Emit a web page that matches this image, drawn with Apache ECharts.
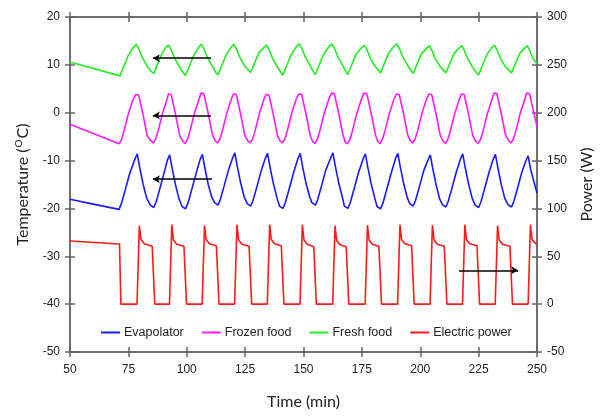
<!DOCTYPE html>
<html>
<head>
<meta charset="utf-8">
<script src="https://cdn.jsdelivr.net/npm/echarts@6/dist/echarts.min.js"></script>
<style>
  html, body { margin: 0; padding: 0; background: #fff; }
  #container { width: 603px; height: 419px; }
</style>
</head>
<body>
<div id="container"></div>
<script>
// x ticks and y ranges
var timeTicks = [50, 250, 25];
var tempRange = [-50, 20, 10];
var powerRange = [-50, 300, 50];

var legendNames = ['Evapolator', 'Frozen food', 'Fresh food', 'Electric power'];

// [time (min), temperature (C)]
var evapolator = [
  [50,-18.1],[60,-19.1],[71.0,-20.2],
  [72.0,-19.0],[73.5,-16.4],[75.5,-12.8],[77.8,-9.7],[78.8,-8.6],
  [79.8,-11.3],[81.3,-14.9],[82.8,-17.8],[84.4,-19.3],[85.9,-19.8],
  [86.9,-18.6],[88.4,-16.0],[90.4,-12.4],[91.7,-9.9],[92.7,-8.8],
  [93.7,-11.5],[95.2,-15.1],[96.7,-18.0],[98.0,-19.6],[99.5,-20.1],
  [100.5,-18.9],[102.0,-16.3],[104.0,-12.7],[105.7,-9.8],[106.7,-8.7],
  [107.7,-11.4],[109.2,-15.0],[110.7,-17.6],[111.9,-18.8],[113.4,-19.3],
  [114.4,-18.1],[115.9,-15.5],[117.9,-11.9],[119.6,-9.5],[120.6,-8.4],
  [121.6,-11.1],[123.1,-14.7],[124.6,-17.6],[125.9,-19.0],[127.4,-19.5],
  [128.4,-18.3],[129.9,-15.7],[131.9,-12.1],[133.6,-9.6],[134.6,-8.5],
  [135.6,-11.2],[137.1,-14.8],[138.6,-17.7],[139.7,-19.5],[141.2,-20.0],
  [142.2,-18.8],[143.7,-16.2],[145.7,-12.6],[147.6,-9.6],[148.6,-8.5],
  [149.6,-11.2],[151.1,-14.8],[152.6,-17.5],[153.6,-18.8],[155.1,-19.3],
  [156.1,-18.1],[157.6,-15.5],[159.6,-11.9],[161.6,-9.5],[162.6,-8.4],
  [163.6,-11.1],[165.1,-14.7],[166.6,-17.6],[167.5,-19.5],[169.0,-20.0],
  [170.0,-18.8],[171.5,-16.2],[173.5,-12.6],[175.5,-9.7],[176.5,-8.6],
  [177.5,-11.3],[179.0,-14.9],[180.5,-17.8],[181.5,-19.6],[183.0,-20.1],
  [184.0,-18.9],[185.5,-16.3],[187.5,-12.7],[189.4,-9.6],[190.4,-8.5],
  [191.4,-11.2],[192.9,-14.8],[194.4,-17.7],[195.5,-19.0],[197.0,-19.5],
  [198.0,-18.3],[199.5,-15.7],[201.5,-12.1],[203.3,-9.9],[204.3,-8.8],
  [205.3,-11.5],[206.8,-15.1],[208.3,-18.0],[209.5,-19.2],[211.0,-19.7],
  [212.0,-18.5],[213.5,-15.9],[215.5,-12.3],[217.2,-9.7],[218.2,-8.6],
  [219.2,-11.3],[220.7,-14.9],[222.2,-17.8],[223.5,-19.3],[225.0,-19.8],
  [226.0,-18.6],[227.5,-16.0],[229.5,-12.4],[231.2,-9.8],[232.2,-8.7],
  [233.2,-11.4],[234.7,-15.0],[236.2,-17.9],[237.6,-19.2],[239.1,-19.7],
  [240.1,-18.5],[241.6,-15.9],[243.6,-12.3],[245.2,-10.1],[246.2,-9.0],
  [247.2,-11.7],[250,-16.8]
];

var frozenFood = [
  [50,-2.4],[71.0,-6.5],
  [72.0,-5.7],[73.0,-4.1],[75.0,-0.2],[77.0,2.8],[78.2,3.8],[78.8,4.1],
  [79.4,3.7],[81.1,0.0],[83.1,-4.9],[84.7,-5.9],[85.7,-6.3],
  [86.7,-5.5],[87.7,-3.9],[89.7,0.0],[91.7,3.0],[92.1,3.9],[92.7,4.2],
  [93.3,3.8],[95.0,0.1],[97.0,-4.8],[98.3,-6.0],[99.3,-6.4],
  [100.3,-5.6],[101.3,-4.0],[103.3,-0.1],[105.3,2.9],[106.1,4.1],[106.7,4.4],
  [107.3,4.0],[109.0,0.3],[111.0,-4.6],[112.2,-5.9],[113.2,-6.3],
  [114.2,-5.5],[115.2,-3.9],[117.2,0.0],[119.2,3.0],[120.0,3.9],[120.6,4.2],
  [121.2,3.8],[122.9,0.1],[124.9,-4.8],[126.2,-5.9],[127.2,-6.3],
  [128.2,-5.5],[129.2,-3.9],[131.2,0.0],[133.2,3.0],[134.0,3.8],[134.6,4.1],
  [135.2,3.7],[136.9,0.0],[138.9,-4.9],[140.0,-5.9],[141.0,-6.3],
  [142.0,-5.5],[143.0,-3.9],[145.0,0.0],[147.0,3.0],[148.0,3.9],[148.6,4.2],
  [149.2,3.8],[150.9,0.1],[152.9,-4.8],[153.9,-6.0],[154.9,-6.4],
  [155.9,-5.6],[156.9,-4.0],[158.9,-0.1],[160.9,2.9],[162.0,4.1],[162.6,4.4],
  [163.2,4.0],[164.9,0.3],[166.9,-4.6],[167.8,-6.1],[168.8,-6.5],
  [169.8,-5.7],[170.8,-4.1],[172.8,-0.2],[174.8,2.8],[175.9,4.1],[176.5,4.4],
  [177.1,4.0],[178.8,0.3],[180.8,-4.6],[181.8,-6.0],[182.8,-6.4],
  [183.8,-5.6],[184.8,-4.0],[186.8,-0.1],[188.8,2.9],[189.8,3.9],[190.4,4.2],
  [191.0,3.8],[192.7,0.1],[194.7,-4.8],[195.8,-5.9],[196.8,-6.3],
  [197.8,-5.5],[198.8,-3.9],[200.8,0.0],[202.8,3.0],[203.7,3.9],[204.3,4.2],
  [204.9,3.8],[206.6,0.1],[208.6,-4.8],[209.8,-6.0],[210.8,-6.4],
  [211.8,-5.6],[212.8,-4.0],[214.8,-0.1],[216.8,2.9],[217.6,3.9],[218.2,4.2],
  [218.8,3.8],[220.5,0.1],[222.5,-4.8],[223.8,-6.0],[224.8,-6.4],
  [225.8,-5.6],[226.8,-4.0],[228.8,-0.1],[230.8,2.9],[231.6,4.1],[232.2,4.4],
  [232.8,4.0],[234.5,0.3],[236.5,-4.6],[237.9,-5.9],[238.9,-6.3],
  [239.9,-5.5],[240.9,-3.9],[242.9,0.0],[244.9,3.0],[245.6,4.1],[246.2,4.4],
  [246.8,4.0],[248.5,0.3],[250,-2.9]
];

var freshFood = [
  [50,10.6],[71.4,7.7],
  [72.8,9.4],[74.9,11.9],[77.0,13.6],[78.4,14.3],
  [79.5,13.3],[81.0,11.5],[83.1,9.7],[84.6,8.7],[85.9,8.2],
  [87.3,9.9],[89.4,12.4],[91.1,13.7],[92.3,14.1],
  [93.4,13.1],[94.9,11.3],[97.0,9.5],[98.5,8.3],[99.5,7.8],
  [100.9,9.5],[103.0,12.0],[105.1,13.7],[106.3,14.3],
  [107.4,13.3],[108.9,11.5],[111.0,9.7],[112.5,8.4],[113.4,7.9],
  [114.8,9.6],[116.9,12.1],[119.0,13.7],[120.2,14.3],
  [121.3,13.3],[122.8,11.5],[124.9,9.7],[126.4,8.9],[127.4,8.4],
  [128.8,10.1],[130.9,12.6],[133.0,13.6],[134.2,14.1],
  [135.3,13.1],[136.8,11.3],[138.9,9.5],[140.4,8.4],[141.2,7.9],
  [142.6,9.6],[144.7,12.1],[147.0,13.8],[148.2,14.4],
  [149.3,13.4],[150.8,11.6],[152.9,9.8],[154.3,8.5],[155.1,8.0],
  [156.5,9.7],[158.6,12.2],[161.0,13.9],[162.2,14.4],
  [163.3,13.4],[164.8,11.6],[166.9,9.8],[168.2,8.5],[169.0,8.0],
  [170.4,9.7],[172.5,12.2],[174.9,13.6],[176.1,14.1],
  [177.2,13.1],[178.7,11.3],[180.8,9.6],[182.2,8.8],[183.0,8.3],
  [184.4,10.0],[186.5,12.5],[188.8,13.9],[190.0,14.4],
  [191.1,13.4],[192.6,11.6],[194.7,9.8],[196.2,8.7],[197.0,8.2],
  [198.4,9.9],[200.5,12.3],[202.7,13.5],[203.9,14.0],
  [205.0,13.0],[206.5,11.2],[208.6,9.6],[210.1,8.8],[211.0,8.3],
  [212.4,10.0],[214.5,12.4],[216.6,13.5],[217.8,14.0],
  [218.9,13.0],[220.4,11.2],[222.5,9.4],[224.0,8.4],[225.0,7.9],
  [226.4,9.6],[228.5,12.1],[230.6,13.6],[231.8,14.1],
  [232.9,13.1],[234.4,11.3],[236.5,9.6],[238.1,8.8],[239.1,8.3],
  [240.5,10.0],[242.6,12.4],[244.6,13.5],[245.8,14.0],
  [246.9,13.0],[248.4,11.2],[250,10.3]
];

// [time (min), power (W)]
var electricPower = [
  [50,66],[71.2,62.8],[71.8,0],
  [78.7,0],[79.7,82.0],[80.4,67.5],[81.8,63.0],[85.2,60.5],[86.3,0],
  [92.6,0],[93.6,83.2],[94.3,67.0],[95.7,62.5],[98.8,60.5],[99.9,0],
  [106.6,0],[107.6,82.2],[108.3,67.5],[109.7,63.0],[112.7,61.0],[113.8,0],
  [120.5,0],[121.5,83.0],[122.2,67.0],[123.6,62.5],[126.7,60.5],[127.8,0],
  [134.5,0],[135.5,83.0],[136.2,67.5],[137.6,63.0],[140.5,61.0],[141.6,0],
  [148.5,0],[149.5,83.0],[150.2,67.0],[151.6,62.5],[154.4,60.0],[155.5,0],
  [162.5,0],[163.5,82.0],[164.2,66.5],[165.6,62.0],[168.3,60.0],[169.4,0],
  [176.4,0],[177.4,82.5],[178.1,67.0],[179.5,62.5],[182.3,60.5],[183.4,0],
  [190.3,0],[191.3,83.0],[192.0,67.5],[193.4,63.0],[196.3,61.0],[197.4,0],
  [204.2,0],[205.2,82.5],[205.9,67.0],[207.3,62.5],[210.3,60.5],[211.4,0],
  [218.1,0],[219.1,83.0],[219.8,67.5],[221.2,63.0],[224.3,61.0],[225.4,0],
  [232.1,0],[233.1,82.0],[233.8,67.0],[235.2,62.5],[238.4,60.5],[239.5,0],
  [246.2,0],[247.2,83.0],[247.9,67.5],[249.3,63.5],[250,63.5]
];

// arrow annotations [from, to]
var arrowFresh = [[110.4, 11.4], [85.5, 11.4]];
var arrowFrozen = [[110.4, -0.6], [85.5, -0.6]];
var arrowEvap = [[110.8, -13.9], [85.5, -13.9]];
var arrowPower = [[216.6, 35.3], [241.9, 35.3]];

var dom = document.getElementById('container');
var myChart = echarts.init(dom);

var axisColor = '#666';
var labelFont = { color: '#222', fontSize: 12, fontFamily: 'Liberation Sans, Arial' };

function xAx(pos, inside, extra) {
    var a = {
        type: 'value', min: timeTicks[0], max: timeTicks[1], interval: timeTicks[2],
        position: pos,
        axisLine: { show: true, onZero: false, lineStyle: { color: axisColor, width: 1.5 } },
        axisTick: { show: true, inside: inside, length: 5, lineStyle: { color: axisColor, width: 1.5 } },
        axisLabel: { show: false },
        splitLine: { show: false }
    };
    return Object.assign(a, extra || {});
}
function yAx(pos, range, inside, extra) {
    var a = {
        type: 'value', min: range[0], max: range[1], interval: range[2],
        position: pos,
        axisLine: { show: true, onZero: false, lineStyle: { color: axisColor, width: 1.5 } },
        axisTick: { show: true, inside: inside, length: 5, lineStyle: { color: axisColor, width: 1.5 } },
        axisLabel: { show: false },
        splitLine: { show: false }
    };
    return Object.assign(a, extra || {});
}

function arrow(coords) {
    return {
        silent: true,
        symbol: ['none', 'arrow'],
        symbolSize: [6, 7],
        label: { show: false },
        lineStyle: { color: '#000', width: 1.5, type: 'solid' },
        data: [[{ coord: coords[0] }, { coord: coords[1] }]]
    };
}

option = {
    animation: false,
    grid: { left: 70, right: 64, top: 17, bottom: 67 },
    legend: {
        data: legendNames,
        left: 96, top: 321,
        icon: 'rect',
        itemWidth: 19, itemHeight: 2, itemGap: 18,
        textStyle: { color: '#222', fontSize: 12.5, fontFamily: 'Liberation Sans, Arial', padding: [0, 0, 0, -1] }
    },
    xAxis: [
        xAx('bottom', false, {
            axisLabel: Object.assign({ show: true, margin: 12 }, labelFont),
            name: 'Time (min)', nameLocation: 'middle', nameGap: 42,
            nameTextStyle: { color: '#222', fontSize: 16, fontFamily: 'Lato' }
        }),
        xAx('bottom', true),
        xAx('top', false),
        xAx('top', true)
    ],
    yAxis: [
        yAx('left', tempRange, false, {
            axisLabel: Object.assign({ show: true, margin: 10 }, labelFont),
            name: '{a|Temperature (}{s|O}{a|C)}', nameLocation: 'middle', nameGap: 38,
            nameTextStyle: {
                rich: {
                    a: { color: '#222', fontSize: 16, fontFamily: 'Lato', height: 18 },
                    s: { color: '#222', fontSize: 10, fontFamily: 'Lato', verticalAlign: 'top', padding: [0, 1, 6, 1] }
                }
            }
        }),
        yAx('right', powerRange, false, {
            axisLabel: Object.assign({ show: true, margin: 10 }, labelFont),
            name: 'Power (W)', nameLocation: 'middle', nameGap: 42,
            nameTextStyle: { color: '#222', fontSize: 16, fontFamily: 'Lato' }
        }),
        yAx('left', tempRange, true),
        yAx('right', powerRange, true)
    ],
    series: [
        {
            name: 'Evapolator', type: 'line', data: evapolator, symbol: 'none',
            xAxisIndex: 0, yAxisIndex: 0,
            lineStyle: { color: '#1a1aff', width: 1.6 }, itemStyle: { color: '#1a1aff' },
            markLine: arrow(arrowEvap)
        },
        {
            name: 'Frozen food', type: 'line', data: frozenFood, symbol: 'none',
            xAxisIndex: 0, yAxisIndex: 0,
            lineStyle: { color: '#ff1aff', width: 1.6 }, itemStyle: { color: '#ff1aff' },
            markLine: arrow(arrowFrozen)
        },
        {
            name: 'Fresh food', type: 'line', data: freshFood, symbol: 'none',
            xAxisIndex: 0, yAxisIndex: 0,
            lineStyle: { color: '#22ee22', width: 1.6 }, itemStyle: { color: '#22ee22' },
            markLine: arrow(arrowFresh)
        },
        {
            name: 'Electric power', type: 'line', data: electricPower, symbol: 'none',
            xAxisIndex: 0, yAxisIndex: 1,
            lineStyle: { color: '#ff1a1a', width: 1.6 }, itemStyle: { color: '#ff1a1a' },
            markLine: arrow(arrowPower)
        }
    ]
};

if (option && typeof option === "object") {
    myChart.setOption(option, true);
}
</script>
</body>
</html>
